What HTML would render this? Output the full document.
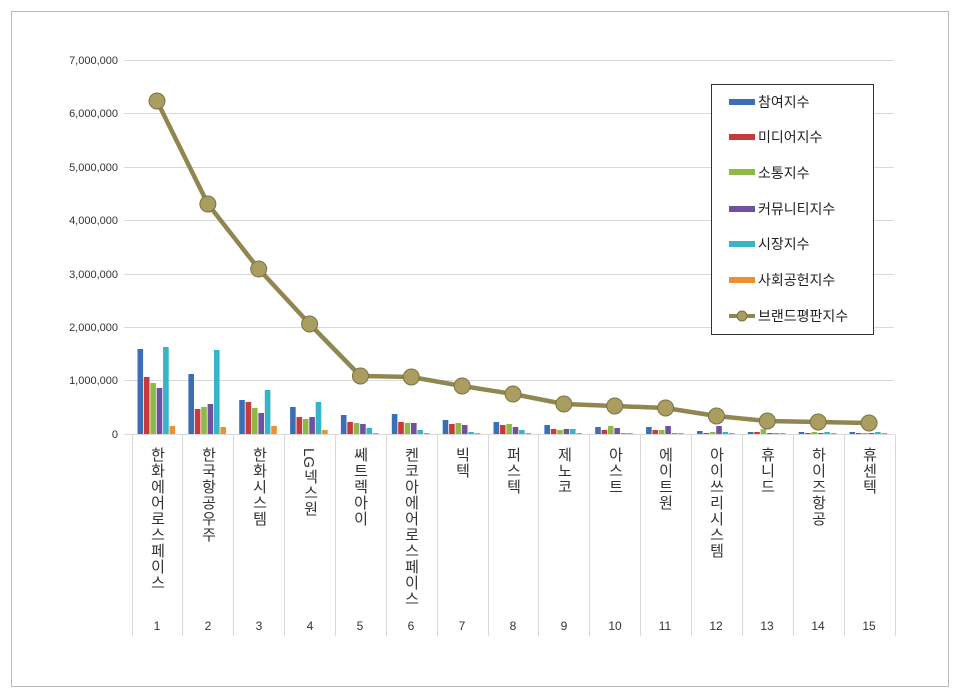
<!DOCTYPE html>
<html><head><meta charset="utf-8"><style>
body{margin:0;background:#fff;width:960px;height:698px;overflow:hidden}
svg{display:block;font-family:"Liberation Sans","Noto Sans CJK KR",sans-serif}
.yl{font-size:11px;fill:#333;text-anchor:end}
.cat{font-size:15px;fill:#333;writing-mode:vertical-rl;text-orientation:mixed;letter-spacing:1px}
.num{font-size:12px;fill:#333;text-anchor:middle}
.lg{font-size:14px;fill:#222}
</style></head><body>
<svg id="s" width="960" height="698" xmlns="http://www.w3.org/2000/svg">
<rect x="11.5" y="11.5" width="937" height="675" fill="#fff" stroke="#bbb"/>
<g stroke="#d9d9d9" stroke-width="1">
<line x1="124" x2="894" y1="60.5" y2="60.5"/><line x1="124" x2="894" y1="113.5" y2="113.5"/>
<line x1="124" x2="894" y1="167.5" y2="167.5"/><line x1="124" x2="894" y1="220.5" y2="220.5"/>
<line x1="124" x2="894" y1="274.5" y2="274.5"/><line x1="124" x2="894" y1="327.5" y2="327.5"/>
<line x1="124" x2="894" y1="380.5" y2="380.5"/><line x1="124" x2="894" y1="434.5" y2="434.5"/>
</g>
<g class="yl">
<text x="118" y="64">7,000,000</text><text x="118" y="117">6,000,000</text>
<text x="118" y="171">5,000,000</text><text x="118" y="224">4,000,000</text>
<text x="118" y="278">3,000,000</text><text x="118" y="331">2,000,000</text>
<text x="118" y="384">1,000,000</text><text x="118" y="438">0</text>
</g>
<g id="div" stroke="#d9d9d9"></g>
<g id="bars"></g>
<text x="0" y="0" transform="translate(304,448) rotate(90)" style="font-size:15px;fill:#333">LG</text>
<g class="cat">
<text x="157" y="447">한화에어로스페이스</text>
<text x="208" y="447">한국항공우주</text>
<text x="259" y="447">한화시스템</text>
<text x="310" y="469">넥스원</text>
<text x="360" y="447">쎄트렉아이</text>
<text x="411" y="447">켄코아에어로스페이스</text>
<text x="462" y="447">빅텍</text>
<text x="513" y="447">퍼스텍</text>
<text x="564" y="447">제노코</text>
<text x="615" y="447">아스트</text>
<text x="665" y="447">에이트원</text>
<text x="716" y="447">아이쓰리시스템</text>
<text x="767" y="447">휴니드</text>
<text x="818" y="447">하이즈항공</text>
<text x="869" y="447">휴센텍</text>
</g>
<g class="num">
<text x="157" y="630">1</text><text x="208" y="630">2</text><text x="259" y="630">3</text>
<text x="310" y="630">4</text><text x="360" y="630">5</text><text x="411" y="630">6</text>
<text x="462" y="630">7</text><text x="513" y="630">8</text><text x="564" y="630">9</text>
<text x="615" y="630">10</text><text x="665" y="630">11</text><text x="716" y="630">12</text>
<text x="767" y="630">13</text><text x="818" y="630">14</text><text x="869" y="630">15</text>
</g>
<g id="line"></g>
<rect x="711.5" y="84.5" width="162" height="250" fill="#fff" stroke="#333"/>
<g class="lg">
<rect x="729" y="99" width="26" height="6" fill="#3a6fb5"/><text x="758" y="107">참여지수</text>
<rect x="729" y="134" width="26" height="6" fill="#c9383a"/><text x="758" y="142">미디어지수</text>
<rect x="729" y="169" width="26" height="6" fill="#8dba45"/><text x="758" y="178">소통지수</text>
<rect x="729" y="206" width="26" height="6" fill="#7050a0"/><text x="758" y="214">커뮤니티지수</text>
<rect x="729" y="241" width="26" height="6" fill="#36b4c8"/><text x="758" y="249">시장지수</text>
<rect x="729" y="277" width="26" height="6" fill="#ee9030"/><text x="758" y="285">사회공헌지수</text>
<line x1="729" x2="755" y1="316" y2="316" stroke="#8f8650" stroke-width="4"/><circle cx="742" cy="316" r="5" fill="#a99e60" stroke="#7a7245"/><text x="758" y="321">브랜드평판지수</text>
</g>
</svg>
<script>
var NS="http://www.w3.org/2000/svg";
function el(p,t,a){var e=document.createElementNS(NS,t);for(var k in a)e.setAttribute(k,a[k]);p.appendChild(e);return e;}
var dv=document.getElementById("div");
for(var k=0;k<=15;k++){var x=Math.round(131.6+50.86*k)+0.5;el(dv,"line",{x1:x,x2:x,y1:434,y2:636});}
var H=[[85,57,51,46,87,8],[60,25,27,30,84,7],[34,32,26,21,44,8],[27,17,15,17,32,4],[19,12,11,10,6,1],[20,12,11,11,4,1],[14,10,11,9,2,1],[12,9,10,7,4,1],[9,5,4,5,5,1],[7,4,8,6,1,1],[7,4,4,8,1,1],[3,1,2,8,2,1],[2,2,5,1,1,1],[2,1,2,1,2,1],[2,1,1,1,2,1]];
var C=["#3a6fb5","#c9383a","#8dba45","#7050a0","#36b4c8","#ee9030"];
var b=document.getElementById("bars");
for(var i=0;i<15;i++){var cx=157+50.86*i;for(var j=0;j<6;j++){var h=H[i][j];el(b,"rect",{x:(cx-19.5+j*6.4).toFixed(1),y:434-h,width:5.6,height:h,fill:C[j]});}}
var Y=[101,204,269,324,376,377,386,394,404,406,408,416,421,422,423];
var g=document.getElementById("line"),pts=Y.map(function(y,i){return (157+50.86*i).toFixed(1)+","+y}).join(" ");
el(g,"polyline",{points:pts,fill:"none",stroke:"#8f8650","stroke-width":4.5,"stroke-linejoin":"round"});
Y.forEach(function(y,i){el(g,"circle",{cx:157+50.86*i,cy:y,r:8,fill:"#a99e60",stroke:"#7a7245","stroke-width":1});});
</script>
</body></html>
